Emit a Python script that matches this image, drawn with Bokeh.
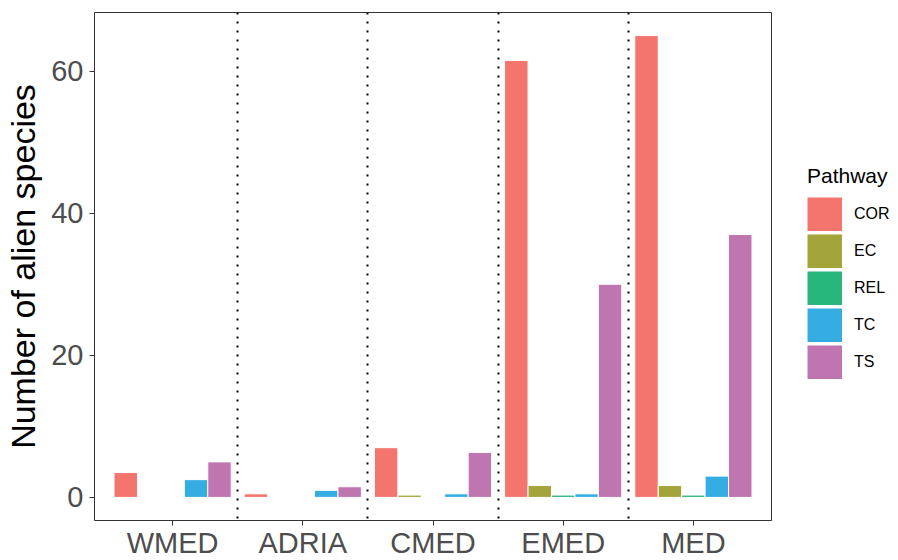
from bokeh.plotting import figure
from bokeh.layouts import row
from bokeh.models import (FactorRange, Range1d, Legend, LegendItem, ColumnDataSource,
                          FixedTicker)
from bokeh.transform import dodge
from bokeh.embed import file_html
from bokeh.resources import INLINE

# ---- data ----
regions = ["WMED", "ADRIA", "CMED", "EMED", "MED"]
pathways = ["COR", "EC", "REL", "TC", "TS"]
cor = [3.5, 0.5, 7.0, 61.5, 65.0]
ec = [0.0, 0.0, 0.33, 1.67, 1.67]
rel = [0.0, 0.0, 0.0, 0.33, 0.33]
tc = [2.5, 1.0, 0.5, 0.5, 3.0]
ts = [5.0, 1.5, 6.33, 30.0, 37.0]
y_ticks = [0, 20, 40, 60]
colors = ["#F3756D", "#A3A43A", "#27B67C", "#35ADE3", "#BF75B0"]

series = [cor, ec, rel, tc, ts]
ymax = max(max(s) for s in series)
pad = 0.05 * ymax

FONT = "Liberation Sans"

p = figure(x_range=FactorRange(factors=regions, range_padding=0.04),
           y_range=Range1d(-pad, ymax + pad),
           frame_width=677, frame_height=508, output_backend="svg", toolbar_location=None,
           min_border_left=94, min_border_top=12, min_border_right=2, min_border_bottom=0)

p.background_fill_color = "white"
p.border_fill_color = "white"
p.outline_line_color = "#333333"
p.outline_line_width = 1
p.xgrid.grid_line_color = None
p.ygrid.grid_line_color = None

# separators between regions
sep_src = ColumnDataSource(dict(region=regions[:-1]))
p.vspan(x=dodge("region", 0.5, range=p.x_range), source=sep_src,
        line_color="black", line_width=2, line_dash="2 7")

n = len(pathways)
bw = 0.9 / n
for i, (name, vals, col) in enumerate(zip(pathways, series, colors)):
    off = (i - (n - 1) / 2) * bw
    src = ColumnDataSource(dict(region=regions, count=vals))
    p.vbar(x=dodge("region", off, range=p.x_range), top="count", bottom=0,
           width=bw, source=src, fill_color=col, line_color="white", line_width=1)

for ax in (p.xaxis, p.yaxis):
    ax.axis_line_color = None
    ax.major_tick_line_color = "#333333"
    ax.major_tick_in = 0
    ax.major_tick_out = 5
    ax.minor_tick_line_color = None
    ax.major_label_text_font = FONT
    ax.major_label_text_color = "#4D4D4D"
    ax.axis_label_text_font = FONT
    ax.axis_label_text_font_style = "normal"
    ax.axis_label_text_color = "black"

p.xaxis.major_label_text_font_size = "29px"
p.xaxis.major_label_standoff = 1
p.yaxis.major_label_text_font_size = "29px"
p.yaxis.major_label_standoff = 6
p.yaxis.ticker = FixedTicker(ticks=y_ticks)
p.yaxis.axis_label = "Number of alien species"
p.yaxis.axis_label_text_font_size = "34px"
p.yaxis.axis_label_standoff = 6

# ---- legend panel (separate canvas to the right) ----
LH = 540
lf = figure(width=125, height=LH, x_range=FactorRange(factors=regions),
            y_range=Range1d(0, 100), min_border=0, output_backend="svg",
            toolbar_location=None, x_axis_location=None, y_axis_location=None)
lf.outline_line_color = None
lf.xgrid.grid_line_color = None
lf.ygrid.grid_line_color = None
lf.background_fill_color = "white"
lf.border_fill_color = "white"

KEY_H = 34
items = []
for name, vals, col in zip(pathways, series, colors):
    src = ColumnDataSource(dict(region=regions, count=vals))
    # thick butt-capped line gives a full-size square legend key
    r = lf.line(x="region", y="count", source=src, line_color=col,
                line_width=KEY_H, line_cap="butt", visible=False)
    items.append(LegendItem(label=name, renderers=[r]))

legend = Legend(items=items, title="Pathway", location=(34, 120))
legend.title_text_font = FONT
legend.title_text_font_size = "21px"
legend.title_text_font_style = "normal"
legend.title_text_color = "black"
legend.title_standoff = 9
legend.label_text_font = FONT
legend.label_text_font_size = "16px"
legend.label_text_color = "black"
legend.glyph_width = 35
legend.glyph_height = KEY_H
legend.spacing = 3
legend.label_standoff = 12
legend.padding = 0
legend.margin = 0
legend.border_line_color = None
legend.background_fill_alpha = 0
legend.click_policy = "none"
lf.add_layout(legend, "center")

layout = row(p, lf)
open("out.html", "w").write(file_html(layout, INLINE))
